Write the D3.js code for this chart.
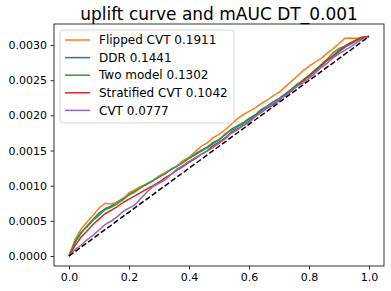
<!DOCTYPE html>
<html>
<head>
<meta charset="utf-8">
<script src="https://cdn.jsdelivr.net/npm/d3@7"></script>
<style>
  body { margin: 0; background: #fff; }
  text { font-family: "DejaVu Sans", sans-serif; fill: #000; }
</style>
</head>
<body>
<svg width="391" height="291"></svg>
<script>
// fraction of population targeted
var fractions = [0, 0.02, 0.04, 0.06, 0.08, 0.10, 0.12, 0.14, 0.16, 0.18, 0.20, 0.22, 0.24, 0.26, 0.28, 0.30,
  0.32, 0.34, 0.36, 0.38, 0.40, 0.42, 0.44, 0.46, 0.48, 0.50, 0.52, 0.54, 0.56, 0.58, 0.60, 0.62, 0.64, 0.66,
  0.68, 0.70, 0.72, 0.74, 0.76, 0.78, 0.80, 0.82, 0.84, 0.86, 0.88, 0.90, 0.92, 0.94, 0.96, 0.98, 1.00];

var flippedCvt = [0, 0.000233, 0.000381, 0.000485, 0.000577, 0.000681, 0.000750, 0.000740, 0.000760, 0.000810,
  0.000900, 0.000942, 0.000990, 0.001024, 0.001073, 0.001135, 0.001183, 0.001231, 0.001279, 0.001356,
  0.001404, 0.001480, 0.001558, 0.001605, 0.001683, 0.001730, 0.001792, 0.001870, 0.001946, 0.002009,
  0.002057, 0.002104, 0.002167, 0.002215, 0.002278, 0.002326, 0.002402, 0.002479, 0.002556, 0.002633,
  0.002695, 0.002757, 0.002806, 0.002882, 0.002945, 0.003021, 0.003098, 0.003100, 0.003095, 0.003112, 0.003120];

var ddr = [0, 0.000190, 0.000324, 0.000428, 0.000520, 0.000610, 0.000672, 0.000707, 0.000769, 0.000818,
  0.000880, 0.000927, 0.000976, 0.001024, 0.001073, 0.001135, 0.001183, 0.001231, 0.001279, 0.001342,
  0.001390, 0.001452, 0.001501, 0.001549, 0.001612, 0.001659, 0.001721, 0.001799, 0.001846, 0.001895,
  0.001957, 0.002005, 0.002082, 0.002130, 0.002193, 0.002241, 0.002303, 0.002366, 0.002442, 0.002491,
  0.002567, 0.002643, 0.002706, 0.002782, 0.002831, 0.002907, 0.002969, 0.003018, 0.003066, 0.003101, 0.003125];

var twoModel = [0, 0.000204, 0.000338, 0.000414, 0.000506, 0.000582, 0.000658, 0.000693, 0.000740, 0.000803,
  0.000865, 0.000913, 0.000976, 0.001024, 0.001073, 0.001121, 0.001168, 0.001231, 0.001279, 0.001328,
  0.001390, 0.001438, 0.001487, 0.001534, 0.001597, 0.001645, 0.001736, 0.001784, 0.001832, 0.001881,
  0.001943, 0.001991, 0.002068, 0.002116, 0.002165, 0.002227, 0.002289, 0.002366, 0.002428, 0.002505,
  0.002567, 0.002643, 0.002720, 0.002797, 0.002888, 0.002950, 0.002984, 0.003032, 0.003066, 0.003101, 0.003130];

var stratifiedCvt = [0, 0.000147, 0.000267, 0.000357, 0.000449, 0.000525, 0.000601, 0.000650, 0.000698, 0.000761,
  0.000809, 0.000856, 0.000905, 0.000953, 0.001002, 0.001050, 0.001112, 0.001160, 0.001222, 0.001271,
  0.001333, 0.001381, 0.001444, 0.001492, 0.001569, 0.001617, 0.001679, 0.001756, 0.001804, 0.001853,
  0.001915, 0.001991, 0.002040, 0.002102, 0.002150, 0.002212, 0.002289, 0.002352, 0.002414, 0.002491,
  0.002553, 0.002629, 0.002706, 0.002782, 0.002845, 0.002922, 0.002984, 0.003032, 0.003080, 0.003115, 0.003118];

var cvt = [0, 0.000090, 0.000153, 0.000230, 0.000293, 0.000369, 0.000445, 0.000494, 0.000556, 0.000633,
  0.000681, 0.000729, 0.000820, 0.000910, 0.000988, 0.001035, 0.001083, 0.001160, 0.001237, 0.001285,
  0.001347, 0.001395, 0.001444, 0.001492, 0.001541, 0.001603, 0.001665, 0.001742, 0.001790, 0.001853,
  0.001900, 0.001977, 0.002040, 0.002116, 0.002165, 0.002227, 0.002274, 0.002337, 0.002414, 0.002462,
  0.002524, 0.002601, 0.002678, 0.002740, 0.002817, 0.002879, 0.002927, 0.002976, 0.003038, 0.003086, 0.003115];

// random targeting baseline
var randomX = [0, 1];
var randomY = [0, 0.00312];

var legendLabels = ["Flipped CVT 0.1911", "DDR 0.1441", "Two model 0.1302", "Stratified CVT 0.1042", "CVT 0.0777"];
var xTicks = [0, 0.2, 0.4, 0.6, 0.8, 1.0];
var yTicks = [0, 0.0005, 0.0010, 0.0015, 0.0020, 0.0025, 0.0030];

var series = [
  { name: legendLabels[0], values: flippedCvt, color: "#ff7f0e" },
  { name: legendLabels[1], values: ddr, color: "#1f77b4" },
  { name: legendLabels[2], values: twoModel, color: "#2ca02c" },
  { name: legendLabels[3], values: stratifiedCvt, color: "#d62728" },
  { name: legendLabels[4], values: cvt, color: "#9467bd" }
];

var svg = d3.select("svg");
var plot = { left: 54, right: 384, top: 24, bottom: 266 };

var x = d3.scaleLinear().domain([-0.05, 1.05]).range([plot.left, plot.right]);
var y = d3.scaleLinear().domain([-0.000142, 0.003299]).range([plot.bottom, plot.top]);

// title
svg.append("text")
  .attr("x", (plot.left + plot.right) / 2)
  .attr("y", 20)
  .attr("text-anchor", "middle")
  .style("font-size", "17px")
  .text("uplift curve and mAUC DT_0.001");

// axes
var xAxis = svg.append("g")
  .attr("transform", "translate(0," + plot.bottom + ")")
  .call(d3.axisBottom(x).tickValues(xTicks).tickFormat(d3.format(".1f")).tickSize(3.5).tickPadding(3.5));

var yAxis = svg.append("g")
  .attr("transform", "translate(" + plot.left + ",0)")
  .call(d3.axisLeft(y).tickValues(yTicks).tickFormat(d3.format(".4f")).tickSize(3.5).tickPadding(3.5));

[xAxis, yAxis].forEach(function(a) {
  a.select(".domain").remove();
  a.selectAll("line").attr("stroke", "#000").attr("stroke-width", 0.8);
  a.selectAll("text").style("font-size", "11px").style("font-family", "DejaVu Sans, sans-serif");
});

var line = d3.line()
  .x(function(d, i) { return x(fractions[i]); })
  .y(function(d) { return y(d); });

var plotOrder = [1, 0, 2, 3, 4];
plotOrder.forEach(function(k) {
  svg.append("path")
    .datum(series[k].values)
    .attr("fill", "none")
    .attr("stroke", series[k].color)
    .attr("stroke-width", 1.5)
    .attr("stroke-linejoin", "round")
    .attr("d", line);
});

svg.append("path")
  .datum(randomY)
  .attr("fill", "none")
  .attr("stroke", "#000")
  .attr("stroke-width", 1.5)
  .attr("stroke-dasharray", "5.5,2.4")
  .attr("d", d3.line().x(function(d, i) { return x(randomX[i]); }).y(function(d) { return y(d); }));

// frame
svg.append("rect")
  .attr("x", plot.left).attr("y", plot.top)
  .attr("width", plot.right - plot.left).attr("height", plot.bottom - plot.top)
  .attr("fill", "none")
  .attr("stroke", "#000")
  .attr("stroke-width", 0.8);

// legend
var legend = svg.append("g").attr("transform", "translate(60,30)");
legend.append("rect")
  .attr("width", 174).attr("height", 93)
  .attr("rx", 3)
  .attr("fill", "#fff").attr("fill-opacity", 0.8)
  .attr("stroke", "#cccccc").attr("stroke-width", 0.8);

var item = legend.selectAll("g.item")
  .data(series)
  .enter().append("g")
    .attr("class", "item")
    .attr("transform", function(d, i) { return "translate(0," + (10 + i * 17.6) + ")"; });

item.append("line")
  .attr("x1", 5).attr("x2", 30)
  .attr("stroke", function(d) { return d.color; })
  .attr("stroke-width", 1.5);

item.append("text")
  .attr("x", 39)
  .attr("dy", "0.35em")
  .style("font-size", "12px")
  .text(function(d) { return d.name; });
</script>
</body>
</html>
